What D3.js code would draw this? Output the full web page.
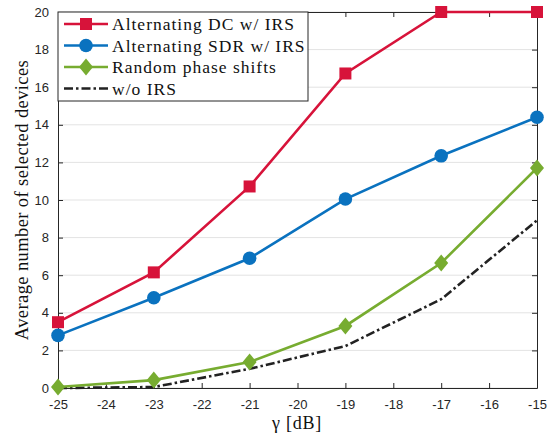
<!DOCTYPE html>
<html>
<head>
<meta charset="utf-8">
<script src="https://cdn.jsdelivr.net/npm/d3@7"></script>
<style>
  body { margin: 0; background: #fff; }
  svg { display: block; }
</style>
</head>
<body>
<div id="chart"></div>
<script>
var gammaDb = [-25, -23, -21, -19, -17, -15];
var dcIrs = [3.5, 6.15, 10.72, 16.73, 20, 20];
var sdrIrs = [2.8, 4.8, 6.9, 10.05, 12.35, 14.4];
var randomPhase = [0.05, 0.42, 1.38, 3.3, 6.65, 11.7];
var noIrs = [0, 0.05, 1.02, 2.23, 4.72, 8.92];
var xTicks = [-25, -24, -23, -22, -21, -20, -19, -18, -17, -16, -15];
var yTicks = [0, 2, 4, 6, 8, 10, 12, 14, 16, 18, 20];

var series = [
    { name: 'Alternating DC w/ IRS', values: dcIrs, color: '#d7133a', marker: 'square', dash: null },
    { name: 'Alternating SDR w/ IRS', values: sdrIrs, color: '#0a72bf', marker: 'circle', dash: null },
    { name: 'Random phase shifts', values: randomPhase, color: '#77ac30', marker: 'diamond', dash: null },
    { name: 'w/o IRS', values: noIrs, color: '#222', marker: null, dash: '9,3,2.5,3' }
];

var width = 547, height = 436;
var margin = { left: 58, right: 10, top: 12, bottom: 48 };
var plotW = width - margin.left - margin.right;
var plotH = height - margin.top - margin.bottom;
var serif = '"Liberation Serif", "Times New Roman", serif';

var svg = d3.select('#chart').append('svg')
    .attr('width', width)
    .attr('height', height);

var x = d3.scaleLinear().domain([-25, -15]).range([0, plotW]);
var y = d3.scaleLinear().domain([0, 20]).range([plotH, 0]);

var g = svg.append('g').attr('transform', 'translate(' + margin.left + ',' + margin.top + ')');

// horizontal grid
g.append('g').selectAll('line')
    .data(yTicks)
    .enter().append('line')
    .attr('x1', 0).attr('x2', plotW)
    .attr('y1', function (d) { return y(d); })
    .attr('y2', function (d) { return y(d); })
    .attr('stroke', '#e3e3e3')
    .attr('stroke-width', 1);

var tickFont = function (sel) {
    sel.selectAll('text')
        .attr('font-family', '"Liberation Sans", Arial, sans-serif')
        .attr('font-size', 13)
        .attr('fill', '#262626');
    sel.select('.domain').attr('stroke', '#262626');
    sel.selectAll('.tick line').attr('stroke', '#262626');
};
var plainNum = function (d) { return String(d); };

g.append('g')
    .attr('transform', 'translate(0,' + plotH + ')')
    .call(d3.axisBottom(x).tickValues(xTicks).tickSize(-5).tickPadding(12).tickSizeOuter(0).tickFormat(plainNum))
    .call(tickFont);
g.append('g')
    .call(d3.axisTop(x).tickValues(xTicks).tickSize(-5).tickFormat('').tickSizeOuter(0))
    .call(tickFont);
g.append('g')
    .call(d3.axisLeft(y).tickValues(yTicks).tickSize(-5).tickPadding(9).tickSizeOuter(0).tickFormat(plainNum))
    .call(tickFont);
g.append('g')
    .attr('transform', 'translate(' + plotW + ',0)')
    .call(d3.axisRight(y).tickValues(yTicks).tickSize(-5).tickFormat('').tickSizeOuter(0))
    .call(tickFont);

var line = d3.line()
    .x(function (d, i) { return x(gammaDb[i]); })
    .y(function (d) { return y(d); });

var drawMarker = function (sel, type, color) {
    if (type === 'square') {
        sel.append('rect').attr('x', -6).attr('y', -6).attr('width', 12).attr('height', 12).attr('fill', color);
    } else if (type === 'circle') {
        sel.append('circle').attr('r', 6.8).attr('fill', color);
    } else if (type === 'diamond') {
        sel.append('path').attr('d', 'M0,-8.5L7,0L0,8.5L-7,0Z').attr('fill', color);
    }
};

series.slice().reverse().forEach(function (s) {
    g.append('path')
        .datum(s.values)
        .attr('d', line)
        .attr('fill', 'none')
        .attr('stroke', s.color)
        .attr('stroke-width', 2.6)
        .attr('stroke-dasharray', s.dash);
    if (s.marker) {
        g.append('g').selectAll('g')
            .data(s.values)
            .enter().append('g')
            .attr('transform', function (d, i) { return 'translate(' + x(gammaDb[i]) + ',' + y(d) + ')'; })
            .each(function () { drawMarker(d3.select(this), s.marker, s.color); });
    }
});

// legend
var legend = g.append('g');
legend.append('rect')
    .attr('x', 0).attr('y', 0)
    .attr('width', 250).attr('height', 89)
    .attr('fill', '#fff')
    .attr('stroke', '#262626')
    .attr('stroke-width', 1);
series.forEach(function (s, i) {
    var row = legend.append('g').attr('transform', 'translate(0,' + (12 + i * 21.5) + ')');
    row.append('line')
        .attr('x1', 6).attr('x2', 50)
        .attr('y1', 0).attr('y2', 0)
        .attr('stroke', s.color)
        .attr('stroke-width', 2.6)
        .attr('stroke-dasharray', s.dash);
    if (s.marker) {
        var m = row.append('g').attr('transform', 'translate(28,0)');
        drawMarker(m, s.marker, s.color);
    }
    row.append('text')
        .attr('x', 54).attr('y', 0)
        .attr('dy', '0.35em')
        .attr('font-family', serif)
        .attr('font-size', 17.5)
        .attr('letter-spacing', 1)
        .attr('fill', '#111')
        .text(s.name);
});

// axis labels
svg.append('text')
    .attr('x', 297)
    .attr('y', 429)
    .attr('text-anchor', 'middle')
    .attr('font-family', serif)
    .attr('font-size', 18)
    .attr('letter-spacing', 0.8)
    .attr('fill', '#111')
    .text('γ [dB]');
svg.append('text')
    .attr('transform', 'translate(28,' + (margin.top + plotH / 2) + ') rotate(-90)')
    .attr('text-anchor', 'middle')
    .attr('font-family', serif)
    .attr('font-size', 18.5)
    .attr('letter-spacing', 0.4)
    .attr('fill', '#111')
    .text('Average number of selected devices');
</script>
</body>
</html>
